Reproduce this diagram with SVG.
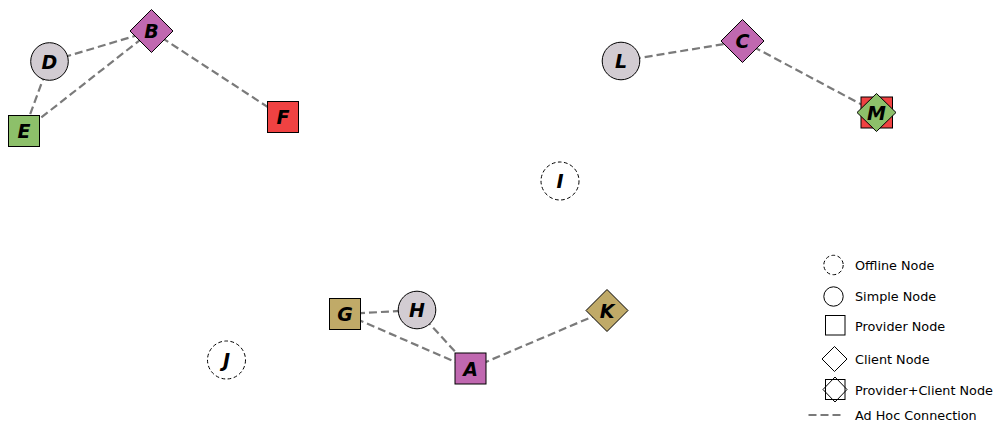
<svg xmlns="http://www.w3.org/2000/svg" width="994" height="423" viewBox="0 0 994 423">
<style>
.edge{stroke:#7a7a7a;stroke-width:2.2;stroke-dasharray:8 4;fill:none}
.n{stroke:#000;stroke-width:1}
.off{fill:none;stroke:#000;stroke-width:1;stroke-dasharray:3.7 2.5}
.lab{font-family:"DejaVu Sans",sans-serif;font-weight:bold;font-style:italic;font-size:19px;text-anchor:middle;fill:#000}
.lg{font-family:"DejaVu Sans",sans-serif;font-size:12.8px;fill:#000}
.purple{fill:#c068b0}.green{fill:#8dc06a}.red{fill:#f04242}.tan{fill:#c0aa68}.grey{fill:#d2ccd2}
</style>
<rect width="994" height="423" fill="#fff"/>
<g id="connectors">
<line class="edge" x1="151.5" y1="31" x2="49.5" y2="61.5"/>
<line class="edge" x1="151.5" y1="31" x2="24" y2="131"/>
<line class="edge" x1="151.5" y1="31" x2="283" y2="117"/>
<line class="edge" x1="49.5" y1="61.5" x2="24" y2="131"/>
<line class="edge" x1="621" y1="61" x2="742.5" y2="41"/>
<line class="edge" x1="742.5" y1="41" x2="876.5" y2="112.5"/>
<line class="edge" x1="345" y1="314" x2="417" y2="310"/>
<line class="edge" x1="345" y1="314" x2="470.5" y2="368.5"/>
<line class="edge" x1="417" y1="310" x2="470.5" y2="368.5"/>
<line class="edge" x1="470.5" y1="368.5" x2="607" y2="310.5"/>
</g>
<g id="node-B"><polygon class="n purple" points="151.5,9.5 173,31 151.5,52.5 130,31"/><text class="lab" x="151.5" y="38">B</text></g>
<g id="node-D"><circle class="n grey" cx="49.5" cy="61.5" r="18.8"/><text class="lab" x="49.5" y="68.5">D</text></g>
<g id="node-E"><rect class="n green" x="8.5" y="115.5" width="31" height="31"/><text class="lab" x="24" y="138">E</text></g>
<g id="node-F"><rect class="n red" x="267.5" y="101.5" width="31" height="31"/><text class="lab" x="283" y="124">F</text></g>
<g id="node-L"><circle class="n grey" cx="621" cy="61" r="18.8"/><text class="lab" x="621" y="68">L</text></g>
<g id="node-C"><polygon class="n purple" points="742.5,19.5 764,41 742.5,62.5 721,41"/><text class="lab" x="742.5" y="48">C</text></g>
<g id="node-M"><rect class="n red" x="861" y="97" width="31.5" height="31"/><polygon class="n green" points="876.5,93.5 896,112.5 876.5,131.5 857,112.5"/><text class="lab" x="876.5" y="119.5">M</text></g>
<g id="node-I"><circle class="off" cx="560" cy="181" r="19"/><text class="lab" x="560" y="188">I</text></g>
<g id="node-J"><circle class="off" cx="226.5" cy="360" r="19"/><text class="lab" x="226.5" y="367">J</text></g>
<g id="node-G"><rect class="n tan" x="329.5" y="298.5" width="31" height="31"/><text class="lab" x="345" y="321">G</text></g>
<g id="node-H"><circle class="n grey" cx="417" cy="310" r="18.8"/><text class="lab" x="417" y="317">H</text></g>
<g id="node-A"><rect class="n purple" x="455" y="353" width="31" height="31"/><text class="lab" x="470.5" y="375.5">A</text></g>
<g id="node-K"><polygon class="n tan" points="607,289.5 628,310.5 607,331.5 586,310.5"/><text class="lab" x="607" y="317.5">K</text></g>
<g id="legend">
<circle class="off" cx="833.5" cy="265" r="9.7"/>
<text class="lg" x="855" y="269.5">Offline Node</text>
<circle class="n" fill="none" cx="833.5" cy="296.5" r="9.7"/>
<text class="lg" x="855" y="301">Simple Node</text>
<rect class="n" fill="none" x="825.5" y="315.5" width="19.5" height="19.5"/>
<text class="lg" x="855" y="330.5">Provider Node</text>
<polygon class="n" fill="none" points="834.5,346.5 847,359 834.5,371.5 822,359"/>
<text class="lg" x="855" y="363.5">Client Node</text>
<rect class="n" fill="none" x="825.5" y="379.5" width="19.5" height="20"/>
<polygon class="n" fill="none" points="835,377 847,389.5 835,402 823,389.5"/>
<text class="lg" x="855" y="395">Provider+Client Node</text>
<line class="edge" x1="808.5" y1="415" x2="843.5" y2="415"/>
<text class="lg" x="855" y="419.5">Ad Hoc Connection</text>
</g>
</svg>
